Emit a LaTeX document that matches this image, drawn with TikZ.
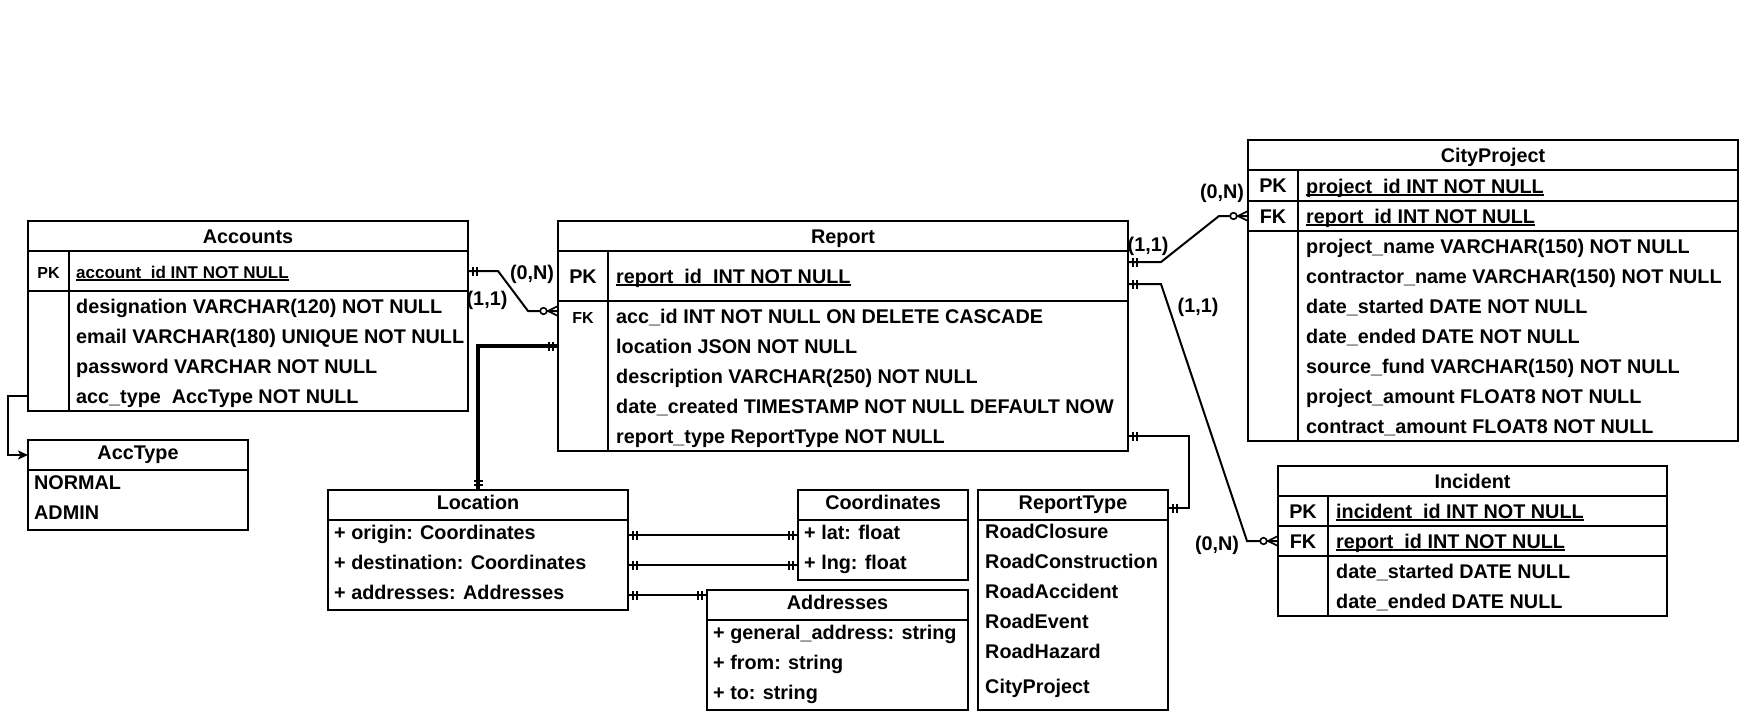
\documentclass[tikz,border=0pt]{standalone}
\usepackage{fontspec}
\setmainfont{Liberation Sans}
\usetikzlibrary{
  arrows.meta,
  % for the cardinality marks
  decorations.markings
}
\newcommand{\undl}[1]{\setbox0\hbox{#1}\rlap{\rule[-2.5pt]{\wd0}{1.3pt}}\box0}
\tikzset{
  tbox/.style={draw, line width=2pt, anchor=north west, inner sep=0pt,
    outer sep=0pt, text height=14pt, text depth=0pt},
  field/.style={anchor=west, inner sep=0pt, text height=14pt, text depth=0pt},
  % class boxes sit their text a little higher
  raised/.style={text height=8pt},
  card/.style={inner sep=0pt, text height=14pt, text depth=0pt},
  small/.style={font=\fontsize{16}{19}\selectfont\bfseries},
  rel/.style={line width=2pt},
  % mandatory one (two bars)
  one end/.style={postaction={decorate, decoration={markings,
    mark=at position 1 with {\draw[line width=1.6pt] (-5pt,-4.5pt) -- (-5pt,4.5pt)
      (-9pt,-4.5pt) -- (-9pt,4.5pt);}}}},
  one start/.style={postaction={decorate, decoration={markings,
    mark=at position 0 with {\draw[line width=1.6pt] (5pt,-4.5pt) -- (5pt,4.5pt)
      (9pt,-4.5pt) -- (9pt,4.5pt);}}}},
  % zero or many (circle and crow's foot)
  many end/.style={postaction={decorate, decoration={markings,
    mark=at position 1 with {\draw[line width=1.6pt, fill=white] (-14.5pt,0) circle (3.3pt);
      \draw[line width=1.6pt] (-10pt,0) -- (0pt,5pt) (-10pt,0) -- (0pt,-5pt);}}}},
}

\begin{document}
\begin{tikzpicture}[x=1pt, y=-1pt, font=\fontsize{19.8}{24}\selectfont\bfseries]
  \useasboundingbox (0,0) rectangle (1739,718);
  % Accounts
  \node[tbox, minimum width=440pt, minimum height=30pt] (acc) at (28,221) {Accounts};
  \node[tbox, minimum width=41pt, minimum height=40pt, small] (accpkkey) at (28,251) {PK};
  \node[tbox, minimum width=399pt, minimum height=40pt] (accpk) at (69,251) {};
  \node[tbox, minimum width=41pt, minimum height=120pt] (acckey) at (28,291) {};
  \node[tbox, minimum width=399pt, minimum height=120pt] (accgrp) at (69,291) {};
  \node[field, font=\fontsize{17}{20}\selectfont\bfseries] (accf0) at (76,271) {\undl{account\_id INT NOT NULL}};
  \node[field] (accf1) at (76,306) {designation VARCHAR(120) NOT NULL};
  \node[field] (accf2) at (76,336) {email VARCHAR(180) UNIQUE NOT NULL};
  \node[field] (accf3) at (76,366) {password VARCHAR NOT NULL};
  \node[field] (accf4) at (76,396) {acc\_type\ \ AccType NOT NULL};
  % AccType
  \node[tbox, raised, minimum width=220pt, minimum height=30pt] (acctype) at (28,440) {AccType};
  \node[tbox, minimum width=220pt, minimum height=60pt] (acctypegrp) at (28,470) {};
  \node[field] (acctypef1) at (34,482) {NORMAL};
  \node[field] (acctypef2) at (34,512) {ADMIN};
  % Report
  \node[tbox, minimum width=570pt, minimum height=30pt] (rpt) at (558,221) {Report};
  \node[tbox, minimum width=50pt, minimum height=50pt] (rptpkkey) at (558,251) {PK};
  \node[tbox, minimum width=520pt, minimum height=50pt] (rptpk) at (608,251) {};
  \node[tbox, minimum width=50pt, minimum height=150pt] (rptkey) at (558,301) {};
  \node[tbox, minimum width=520pt, minimum height=150pt] (rptgrp) at (608,301) {};
  \node[card, small] (rptfk) at (583,316) {FK};
  \node[field] (rptf0) at (616,276) {\undl{report\_id\ \ INT NOT NULL}};
  \node[field] (rptf1) at (616,316) {acc\_id INT NOT NULL ON DELETE CASCADE};
  \node[field] (rptf2) at (616,346) {location JSON NOT NULL};
  \node[field] (rptf3) at (616,376) {description VARCHAR(250) NOT NULL};
  \node[field] (rptf4) at (616,406) {date\_created TIMESTAMP NOT NULL DEFAULT NOW};
  \node[field] (rptf5) at (616,436) {report\_type ReportType NOT NULL};
  % CityProject
  \node[tbox, minimum width=490pt, minimum height=30pt] (cp) at (1248,140) {CityProject};
  \node[tbox, minimum width=50pt, minimum height=31pt] (cppkkey) at (1248,170) {PK};
  \node[tbox, minimum width=440pt, minimum height=31pt] (cppk) at (1298,170) {};
  \node[tbox, minimum width=50pt, minimum height=30pt] (cpfkkey) at (1248,201) {FK};
  \node[tbox, minimum width=440pt, minimum height=30pt] (cpfk) at (1298,201) {};
  \node[tbox, minimum width=50pt, minimum height=210pt] (cpkey) at (1248,231) {};
  \node[tbox, minimum width=440pt, minimum height=210pt] (cpgrp) at (1298,231) {};
  \node[field] (cpf0) at (1306,186) {\undl{project\_id INT NOT NULL}};
  \node[field] (cpf1) at (1306,216) {\undl{report\_id INT NOT NULL}};
  \node[field] (cpf2) at (1306,246) {project\_name VARCHAR(150) NOT NULL};
  \node[field] (cpf3) at (1306,276) {contractor\_name VARCHAR(150) NOT NULL};
  \node[field] (cpf4) at (1306,306) {date\_started DATE NOT NULL};
  \node[field] (cpf5) at (1306,336) {date\_ended DATE NOT NULL};
  \node[field] (cpf6) at (1306,366) {source\_fund VARCHAR(150) NOT NULL};
  \node[field] (cpf7) at (1306,396) {project\_amount FLOAT8 NOT NULL};
  \node[field] (cpf8) at (1306,426) {contract\_amount FLOAT8 NOT NULL};
  % Incident
  \node[tbox, minimum width=389pt, minimum height=30pt] (inc) at (1278,466) {Incident};
  \node[tbox, minimum width=50pt, minimum height=30pt] (incpkkey) at (1278,496) {PK};
  \node[tbox, minimum width=339pt, minimum height=30pt] (incpk) at (1328,496) {};
  \node[tbox, minimum width=50pt, minimum height=30pt] (incfkkey) at (1278,526) {FK};
  \node[tbox, minimum width=339pt, minimum height=30pt] (incfk) at (1328,526) {};
  \node[tbox, minimum width=50pt, minimum height=60pt] (inckey) at (1278,556) {};
  \node[tbox, minimum width=339pt, minimum height=60pt] (incgrp) at (1328,556) {};
  \node[field] (incf0) at (1336,511) {\undl{incident\_id INT NOT NULL}};
  \node[field] (incf1) at (1336,541) {\undl{report\_id INT NOT NULL}};
  \node[field] (incf2) at (1336,571) {date\_started DATE NULL};
  \node[field] (incf3) at (1336,601) {date\_ended DATE NULL};
  % Location
  \node[tbox, raised, minimum width=300pt, minimum height=30pt] (loc) at (328,490) {Location};
  \node[tbox, minimum width=300pt, minimum height=90pt] (locgrp) at (328,520) {};
  \node[field, raised] (locf1) at (334,535) {+ origin: Coordinates};
  \node[field, raised] (locf2) at (334,565) {+ destination: Coordinates};
  \node[field, raised] (locf3) at (334,595) {+ addresses: Addresses};
  % Coordinates
  \node[tbox, raised, minimum width=170pt, minimum height=30pt] (coo) at (798,490) {Coordinates};
  \node[tbox, minimum width=170pt, minimum height=60pt] (coogrp) at (798,520) {};
  \node[field, raised] (coof1) at (804,535) {+ lat: float};
  \node[field, raised] (coof2) at (804,565) {+ lng: float};
  % Addresses
  \node[tbox, raised, minimum width=261pt, minimum height=30pt] (addr) at (707,590) {Addresses};
  \node[tbox, minimum width=261pt, minimum height=90pt] (addrgrp) at (707,620) {};
  \node[field, raised] (addrf1) at (713,635) {+ general\_address: string};
  \node[field, raised] (addrf2) at (713,665) {+ from: string};
  \node[field, raised] (addrf3) at (713,695) {+ to: string};
  % ReportType
  \node[tbox, raised, minimum width=190pt, minimum height=30pt] (rtype) at (978,490) {ReportType};
  \node[tbox, minimum width=190pt, minimum height=190pt] (rtypegrp) at (978,520) {};
  \node[field, raised] (rtypef1) at (985,534) {RoadClosure};
  \node[field, raised] (rtypef2) at (985,564) {RoadConstruction};
  \node[field, raised] (rtypef3) at (985,594) {RoadAccident};
  \node[field, raised] (rtypef4) at (985,624) {RoadEvent};
  \node[field, raised] (rtypef5) at (985,654) {RoadHazard};
  \node[field, raised] (rtypef6) at (985,689) {CityProject};

  % relations
  \draw[rel, one start, many end] (accpk.east) -- ++(30,0) -- ++(30,40)
    -- ([yshift=-10pt]rptkey.north west);
  \node[card] (accn) at (532,272) {(0,N)};
  \node[card] (acc1) at (487,298) {(1,1)};
  \draw[rel, line width=3.5pt, one start, one end] (loc.north) -- (loc.north |- rptf2.west)
    -- (rptkey.west |- rptf2.west);
  \draw[rel, one start, many end] ([yshift=14pt]rptpk.east) -- ++(33,0) -- ++(58,-46)
    -- (cpfkkey.west);
  \node[card] (cp1) at (1148,244) {(1,1)};
  \node[card] (cpn) at (1222,191) {(0,N)};
  \draw[rel, one start, many end] ([yshift=-8pt]rptpk.east) -- ++(33,0) -- ++(86,257)
    -- (incfkkey.west);
  \node[card] (inc1) at (1198,305) {(1,1)};
  \node[card] (incn) at (1217,543) {(0,N)};
  \draw[rel, one start, one end] (rptgrp.east |- rptf5.west) -- ++(61,0)
    |- ([yshift=-3pt]rtype.east);
  \draw[rel, one start, one end] (locgrp.east |- locf1.west) -- (coogrp.west |- locf1.west);
  \draw[rel, one start, one end] (locgrp.east |- locf2.west) -- (coogrp.west |- locf2.west);
  \draw[rel, one start, one end] (locgrp.east |- locf3.west) -- (addr.west |- locf3.west);
  \draw[rel, -{Stealth[length=10pt, width=9pt, inset=2.5pt]}] (acckey.west |- accf4.west)
    -- ++(-20,0) |- (acctype.west);
\end{tikzpicture}
\end{document}
